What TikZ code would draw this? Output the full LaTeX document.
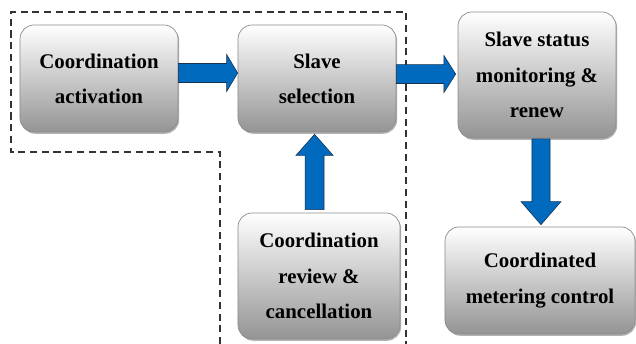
\documentclass[tikz,border=0pt]{standalone}
\usepackage{fontspec}
\setmainfont{Liberation Serif}
\usetikzlibrary{calc,shadows}
\definecolor{arrowblue}{RGB}{0,106,190}
\definecolor{arrowedge}{RGB}{25,50,80}
\tikzset{
  box/.style={draw=black!45, line width=0.6pt, rounded corners=0.42cm,
    top color=white, bottom color=black!42, inner sep=0pt, align=center,
    font=\bfseries\fontsize{17.8}{30}\selectfont,
    drop shadow={shadow xshift=1pt, shadow yshift=-1.5pt, opacity=0.3, fill=black}},
  barrow/.style={fill=arrowblue, draw=arrowedge, line width=0.5pt, line join=miter},
  harrow/.style n args={3}{to path={let \p1=(\tikztostart),\p2=(\tikztotarget) in
    (\x1,\y1+#1) -- (\x2-#3,\y1+#1) -- (\x2-#3,\y1+#2) -- (\x2,\y1) --
    (\x2-#3,\y1-#2) -- (\x2-#3,\y1-#1) -- (\x1,\y1-#1) -- cycle}},
  uparrow/.style n args={3}{to path={let \p1=(\tikztostart),\p2=(\tikztotarget) in
    (\x1-#1,\y1) -- (\x1-#1,\y2-#3) -- (\x1-#2,\y2-#3) -- (\x1,\y2) --
    (\x1+#2,\y2-#3) -- (\x1+#1,\y2-#3) -- (\x1+#1,\y1) -- cycle}},
  downarrow/.style n args={3}{to path={let \p1=(\tikztostart),\p2=(\tikztotarget) in
    (\x1-#1,\y1) -- (\x1-#1,\y2+#3) -- (\x1-#2,\y2+#3) -- (\x1,\y2) --
    (\x1+#2,\y2+#3) -- (\x1+#1,\y2+#3) -- (\x1+#1,\y1) -- cycle}},
  group/.style={draw=black!80, line width=1pt, dash pattern=on 6pt off 4pt}
}
\begin{document}
\begin{tikzpicture}[x=0.03cm,y=-0.03cm]
\useasboundingbox[fill=white] (0,0) rectangle (636,344);
% dashed group outline
\draw[group] (220,344) -- (220,152) -- (11,152) -- (11,12) -- (406,12) -- (406,344);
% boxes
\node[box, minimum width=4.74cm, minimum height=3.21cm] (b1) at (99,78.5) {Coordination\\activation};
\node[box, minimum width=4.74cm, minimum height=3.21cm] (b2) at (317,78.5) {Slave\\selection};
\node[box, minimum width=4.74cm, minimum height=3.78cm] (b3) at (537,75) {Slave status\\monitoring \&\\renew};
\node[box, minimum width=4.86cm, minimum height=3.78cm] (b4) at (319,276) {Coordination\\review \&\\cancellation};
\node[box, minimum width=5.7cm, minimum height=3.21cm] (b5) at (540,280.5) {Coordinated\\metering control};
% arrows
\draw[barrow, harrow={8.1pt}{15.8pt}{9.4pt}] ([yshift=4.7pt]b1.east) to (b2.west);
\draw[barrow, harrow={8.1pt}{15.8pt}{10pt}] ([yshift=3.8pt]b2.east) to ([xshift=-1.7pt]b3.west);
\draw[barrow, uparrow={8.1pt}{15.8pt}{17.9pt}] ([xshift=-3.8pt,yshift=2.6pt]b4.north) to ([yshift=-1.7pt]b2.south);
\draw[barrow, downarrow={7.7pt}{17pt}{19.6pt}] ([xshift=3.4pt,yshift=-0.5pt]b3.south) to ([yshift=1.7pt]b5.north);
\end{tikzpicture}
\end{document}
